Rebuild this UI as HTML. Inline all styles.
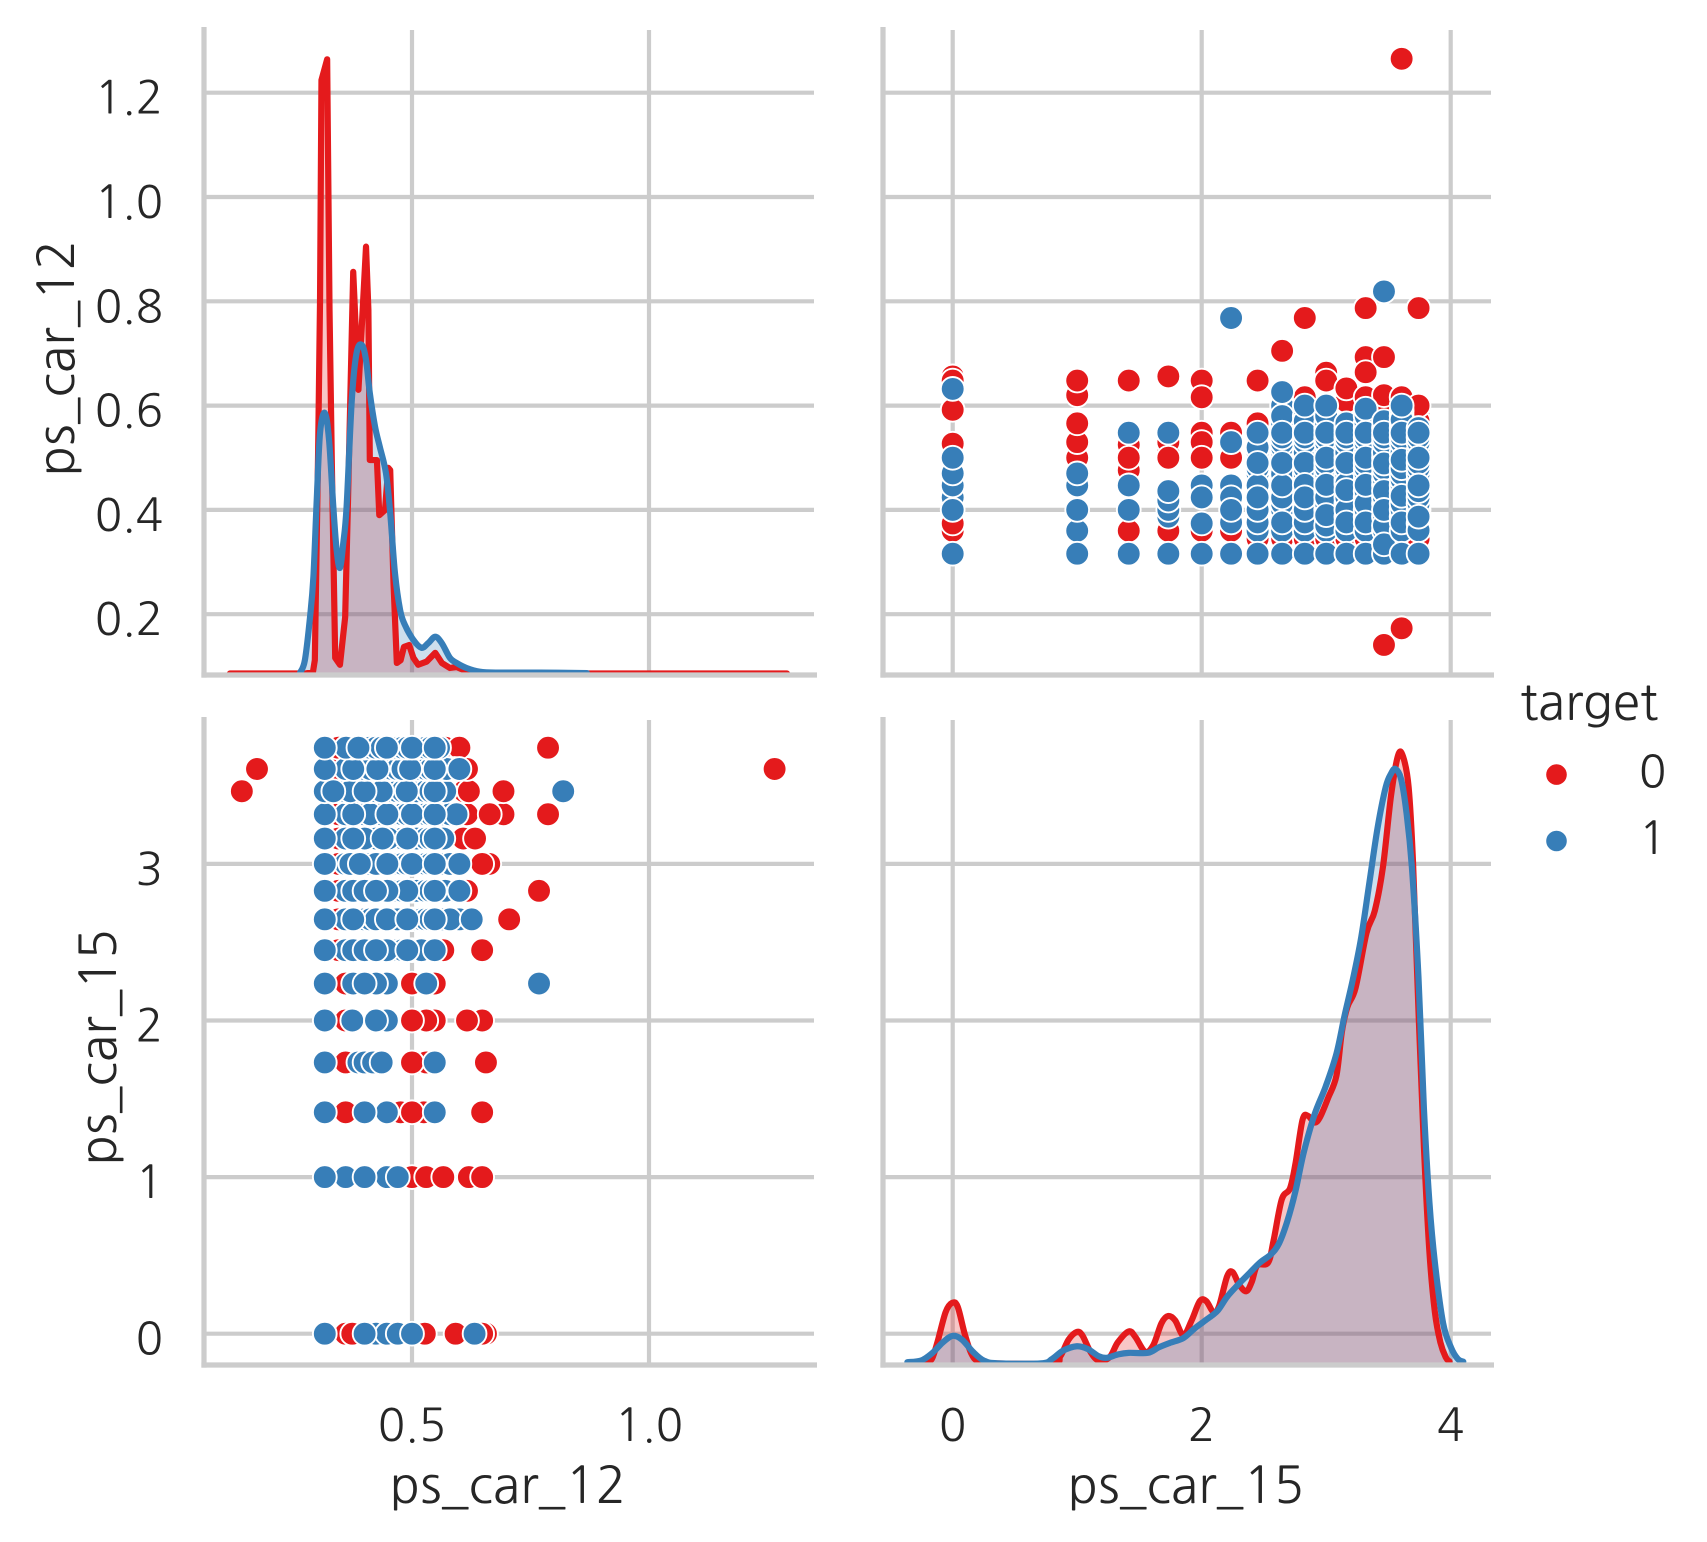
<!DOCTYPE html>
<html lang="en">
<head>
<meta charset="utf-8">
<title>Pair plot of ps_car_12 and ps_car_15 by target</title>
<style>
html,body{margin:0;padding:0;background:#fff;}
svg{display:block;}
text{font-family:"NanumGothic","Liberation Sans",sans-serif;fill:#262626;}
</style>
</head>
<body>
<svg id="chart" xmlns="http://www.w3.org/2000/svg" width="1707" height="1542" viewBox="0 0 1707 1542"></svg>
<script>
// ---- tick labels ----
const car12TicksY = [0.2, 0.4, 0.6, 0.8, 1.0, 1.2];
const car12TicksX = [0.5, 1.0];
const car15TicksY = [0, 1, 2, 3];
const car15TicksX = [0, 2, 4];
const legendCategories = ['0', '1'];

// ---- scatter data: one row per ps_car_15 level, values are ps_car_12 ----
const car15Levels = [0, 1, 1.414, 1.732, 2, 2.236, 2.449, 2.646, 2.828, 3, 3.162, 3.317, 3.464, 3.606, 3.742];
const redCar12 = [
  [.36,.374,.527,.592,.656,.648],
  [.5,.53,.566,.62,.648],
  [.36,.476,.51,.525,.5,.648],
  [.36,.51,.53,.5,.656],
  [.36,.548,.53,.5,.648,.616],
  [.36,.548,.5],
  [.345,.5,.566,.648],
  [.345,.5,.705],
  [.345,.5,.616,.768],
  [.345,.5,.663,.648],
  [.345,.5,.608,.633],
  [.345,.616,.693,.664,.787],
  [.141,.345,.605,.61,.62,.693],
  [.173,.345,.616,1.265],
  [.345,.58,.57,.6,.787]
];
const blueCar12 = [
  [.424,.447,.47,.316,.4,.5,.632],
  [.36,.447,.316,.4,.47],
  [.316,.447,.4,.548],
  [.387,.4,.418,.316,.548,.436],
  [.447,.316,.374,.424],
  [.447,.424,.376,.4,.316,.53,.768],
  [.36,.387,.412,.436,.458,.469,.48,.51,.52,.376,.4,.447,.424,.316,.49,.548],
  [.36,.387,.4,.412,.436,.458,.469,.51,.52,.529,.539,.557,.566,.59,.6,.424,.376,.58,.447,.316,.49,.548,.626],
  [.36,.387,.412,.436,.458,.469,.48,.51,.529,.539,.557,.58,.376,.4,.49,.448,.57,.316,.424,.548,.6],
  [.36,.387,.4,.412,.436,.458,.469,.48,.49,.51,.529,.539,.557,.566,.58,.37,.424,.448,.39,.316,.5,.548,.6],
  [.36,.387,.412,.424,.458,.469,.48,.5,.51,.529,.539,.557,.45,.4,.49,.566,.438,.376,.316,.548],
  [.36,.387,.4,.424,.436,.458,.469,.48,.49,.51,.529,.539,.557,.566,.58,.412,.448,.5,.594,.376,.316,.548],
  [.36,.387,.412,.424,.447,.458,.469,.48,.5,.51,.529,.539,.557,.316,.37,.436,.489,.57,.334,.4,.548,.819],
  [.36,.387,.4,.412,.436,.447,.458,.469,.48,.51,.529,.539,.557,.566,.58,.59,.427,.573,.6,.496,.316,.376,.548],
  [.374,.4,.412,.424,.436,.458,.469,.48,.49,.51,.529,.539,.557,.361,.316,.5,.387,.447,.548]
];

// ---- KDE of ps_car_12 ----
const kde12RedX = [.116,.274,.291,.295,.302,.306,.309,.321,.326,.331,.338,.348,.359,.365,.373,.376,.387,.403,.408,.411,.426,.431,.443,.450,.454,.461,.468,.476,.483,.494,.503,.513,.531,.549,.563,.580,.594,.622,.665,1.291];
const kde12RedD = [0,0,.003,.029,.487,.814,1.293,1.338,.792,.450,.034,.019,.123,.378,.742,.875,.618,.930,.792,.465,.465,.345,.356,.448,.443,.197,.023,.029,.058,.062,.034,.019,.026,.045,.023,.012,.014,.002,0,0];
const kde12BlueX = [.264,.274,.285,.292,.299,.306,.316,.325,.334,.341,.348,.355,.362,.373,.383,.394,.403,.411,.422,.432,.445,.454,.464,.475,.485,.503,.520,.534,.549,.563,.580,.594,.615,.643,.679,.770,.869];
const kde12BlueD = [.002,.029,.124,.211,.378,.524,.568,.509,.363,.269,.230,.284,.363,.596,.698,.716,.683,.611,.538,.494,.437,.350,.219,.138,.106,.073,.056,.066,.080,.066,.034,.023,.012,.004,.002,.002,.001];

// ---- KDE of ps_car_15 ----
const kde15RedX = [-.211,-.167,-.123,-.057,-.004,.040,.097,.149,.206,.316,.799,.865,.931,.997,1.041,1.106,1.172,1.260,1.326,1.414,1.467,1.546,1.611,1.677,1.730,1.787,1.853,1.919,1.985,2.037,2.094,2.138,2.204,2.248,2.301,2.358,2.402,2.446,2.533,2.577,2.643,2.709,2.753,2.810,2.854,2.907,2.951,3.016,3.082,3.126,3.170,3.236,3.324,3.390,3.456,3.521,3.578,3.618,3.662,3.697,3.741,3.785,3.829,3.873,3.917,3.960,3.991];
const kde15RedD = [.004,.010,.040,.095,.112,.105,.055,.020,.005,.002,.002,.015,.045,.059,.053,.023,.007,.013,.040,.060,.050,.023,.035,.075,.088,.080,.053,.080,.115,.115,.095,.105,.160,.168,.145,.133,.150,.180,.185,.225,.300,.320,.365,.445,.452,.440,.450,.485,.525,.605,.650,.685,.785,.825,.905,1.035,1.108,1.105,1.050,.915,.645,.395,.205,.095,.040,.013,.005];
const kde15BlueX = [-.364,-.254,-.167,-.079,0,.075,.162,.250,.360,.711,.799,.887,.997,1.085,1.172,1.238,1.326,1.414,1.567,1.655,1.743,1.853,1.941,2.029,2.125,2.204,2.292,2.379,2.467,2.555,2.621,2.687,2.753,2.819,2.907,2.995,3.082,3.148,3.214,3.280,3.346,3.412,3.478,3.522,3.556,3.601,3.644,3.688,3.741,3.785,3.829,3.873,3.939,4.004,4.057,4.101];
const kde15BlueD = [.004,.007,.020,.040,.052,.045,.023,.007,.002,.002,.010,.025,.033,.028,.015,.012,.018,.021,.021,.031,.039,.048,.065,.080,.097,.123,.145,.165,.185,.200,.220,.260,.315,.385,.455,.505,.565,.635,.700,.775,.875,.975,1.050,1.075,1.083,1.065,1.005,.905,.705,.465,.295,.185,.075,.030,.010,.005];

// ---- axis functions ----
const xCar12 = v => 412 + (v - 0.5) * 474;
const yCar12 = v => 92.7 + (1.2 - v) * 521.5;
const xCar15 = v => 952.7 + v * 124.5;
const yCar15 = v => 1333.7 - v * 156.6;
const yDens12 = d => 673.5 - d * 459;
const yDens15 = d => 1364.4 - d * 549.8;

const RED = '#e41a1c', BLUE = '#377eb8', GRID = '#cccccc';
const NS = 'http://www.w3.org/2000/svg';
const svg = document.getElementById('chart');
const panels = [
  {l:204,  r:814,  t:30,  b:675},
  {l:883,  r:1491, t:30,  b:675},
  {l:204,  r:814,  t:720, b:1365},
  {l:883,  r:1491, t:720, b:1365}
];

function mk(tag, parent, attrs, text) {
  const el = document.createElementNS(NS, tag);
  for (const k in attrs) el.setAttribute(k, attrs[k]);
  if (text !== undefined) el.textContent = text;
  parent.appendChild(el);
  return el;
}

function drawGrid(p, g, xTicks, xFn, yTicks, yFn) {
  for (const t of xTicks) {
    const line = mk('line', g, {x1:xFn(t), x2:xFn(t), y1:p.t, y2:p.b, stroke:GRID, 'stroke-width':4.2});
    
    
  }
  for (const t of yTicks) {
    const line = mk('line', g, {x1:p.l, x2:p.r, y1:yFn(t), y2:yFn(t), stroke:GRID, 'stroke-width':4.2});
    
    
  }
}

function drawSpines(p, g) {
  const left = mk('line', g, {x1:p.l, x2:p.l, y1:p.t - 3, y2:p.b + 2.6, stroke:GRID, 'stroke-width':5.2});
  
  
  const bottom = mk('line', g, {x1:p.l - 2.6, x2:p.r + 3, y1:p.b, y2:p.b, stroke:GRID, 'stroke-width':5.2});
  
  
}

function straightPath(pts) {
  return pts.map((q, i) => (i ? 'L' : 'M') + q[0].toFixed(2) + ' ' + q[1].toFixed(2)).join('');
}

function smoothPath(pts) {
  let d = 'M' + pts[0][0].toFixed(2) + ' ' + pts[0][1].toFixed(2);
  for (let i = 0; i < pts.length - 1; i++) {
    const p0 = pts[Math.max(i - 1, 0)], p1 = pts[i], p2 = pts[i + 1], p3 = pts[Math.min(i + 2, pts.length - 1)];
    const c1x = p1[0] + (p2[0] - p0[0]) / 6, c1y = p1[1] + (p2[1] - p0[1]) / 6;
    const c2x = p2[0] - (p3[0] - p1[0]) / 6, c2y = p2[1] - (p3[1] - p1[1]) / 6;
    d += 'C' + c1x.toFixed(2) + ' ' + c1y.toFixed(2) + ' ' + c2x.toFixed(2) + ' ' + c2y.toFixed(2) + ' ' + p2[0].toFixed(2) + ' ' + p2[1].toFixed(2);
  }
  return d;
}

function kdePath(xs, ds, xFn, yFn, smooth) {
  const pts = xs.map((x, i) => [xFn(x), yFn(ds[i])]);
  return smooth ? smoothPath(pts) : straightPath(pts);
}

function drawKdeFill(g, xs, ds, xFn, yFn, color, label, smooth) {
  const area = kdePath(xs, ds, xFn, yFn, smooth) +
               'L' + xFn(xs[xs.length - 1]).toFixed(2) + ' ' + yFn(0).toFixed(2) +
               'L' + xFn(xs[0]).toFixed(2) + ' ' + yFn(0).toFixed(2) + 'Z';
  const fill = mk('path', g, {d:area, fill:color, 'fill-opacity':0.25, stroke:'none'});
  
  
}

function drawKdeLine(g, xs, ds, xFn, yFn, color, label, smooth) {
  const stroke = mk('path', g, {d:kdePath(xs, ds, xFn, yFn, smooth), fill:'none', stroke:color, 'stroke-width':6.2, 'stroke-linejoin':'round', 'stroke-linecap':'round'});
  
  
}

function drawPoint(g, cx, cy, color, label) {
  const c = mk('circle', g, {cx:cx, cy:cy, r:11.9, fill:color, stroke:'#ffffff', 'stroke-width':1.9});
  
  
}

function drawScatter(g, project) {
  [[redCar12, RED, '0'], [blueCar12, BLUE, '1']].forEach(([rows, color, label]) => {
    rows.forEach((row, i) => {
      row.forEach(v12 => {
        const pt = project(v12, car15Levels[i]);
        drawPoint(g, pt[0], pt[1], color, label);
      });
    });
  });
}

function addText(parent, str, x, y, size, anchor, name, rotate) {
  const attrs = {x:x, y:y, 'font-size':size, 'text-anchor':anchor};
  if (rotate) attrs.transform = 'rotate(-90 ' + x + ' ' + y + ')';
  const t = mk('text', parent, attrs, str);
  
  
  return t;
}

// Panel 1: KDE ps_car_12
const g1 = mk('g', svg, {});


drawGrid(panels[0], g1, car12TicksX, xCar12, car12TicksY, yCar12);
drawKdeFill(g1, kde12RedX, kde12RedD, xCar12, yDens12, RED, '0', false);
drawKdeFill(g1, kde12BlueX, kde12BlueD, xCar12, yDens12, BLUE, '1', true);
drawKdeLine(g1, kde12RedX, kde12RedD, xCar12, yDens12, RED, '0', false);
drawKdeLine(g1, kde12BlueX, kde12BlueD, xCar12, yDens12, BLUE, '1', true);
drawSpines(panels[0], g1);

// Panel 2: scatter x=ps_car_15, y=ps_car_12
const g2 = mk('g', svg, {});


drawGrid(panels[1], g2, car15TicksX, xCar15, car12TicksY, yCar12);
drawSpines(panels[1], g2);
drawScatter(g2, (v12, v15) => [xCar15(v15), yCar12(v12)]);

// Panel 3: scatter x=ps_car_12, y=ps_car_15
const g3 = mk('g', svg, {});


drawGrid(panels[2], g3, car12TicksX, xCar12, car15TicksY, yCar15);
drawSpines(panels[2], g3);
drawScatter(g3, (v12, v15) => [xCar12(v12), yCar15(v15)]);

// Panel 4: KDE ps_car_15
const g4 = mk('g', svg, {});


drawGrid(panels[3], g4, car15TicksX, xCar15, car15TicksY, yCar15);
drawKdeFill(g4, kde15RedX, kde15RedD, xCar15, yDens15, RED, '0', true);
drawKdeFill(g4, kde15BlueX, kde15BlueD, xCar15, yDens15, BLUE, '1', true);
drawKdeLine(g4, kde15RedX, kde15RedD, xCar15, yDens15, RED, '0', true);
drawKdeLine(g4, kde15BlueX, kde15BlueD, xCar15, yDens15, BLUE, '1', true);
drawSpines(panels[3], g4);

// Tick labels
for (const t of car12TicksY) addText(svg, t.toFixed(1), 163, yCar12(t) + 21, 45, 'end', 'y-tick-label');
for (const t of car15TicksY) addText(svg, String(t), 163, yCar15(t) + 21, 45, 'end', 'y-tick-label');
for (const t of car12TicksX) addText(svg, t.toFixed(1), xCar12(t), 1441, 45, 'middle', 'x-tick-label');
for (const t of car15TicksX) addText(svg, String(t), xCar15(t), 1441, 45, 'middle', 'x-tick-label');

// Axis titles
addText(svg, 'ps_car_12', 74, 358, 50, 'middle', 'y-axis-title-ps-car-12', true);
addText(svg, 'ps_car_15', 116, 1047, 50, 'middle', 'y-axis-title-ps-car-15', true);
addText(svg, 'ps_car_12', 508, 1503, 50, 'middle', 'x-axis-title-ps-car-12');
addText(svg, 'ps_car_15', 1186, 1503, 50, 'middle', 'x-axis-title-ps-car-15');

// Legend
const legend = mk('g', svg, {});


addText(legend, 'target', 1520, 720, 49.5, 'start', 'legend-title');
legendCategories.forEach((cat, i) => {
  const cy = 774.6 + i * 66.4;
  const swatch = mk('circle', legend, {cx:1556.5, cy:cy, r:11.2, fill:i ? BLUE : RED, stroke:'#ffffff', 'stroke-width':1.8});
  
  
  addText(legend, cat, 1639, cy + 13, 45, 'start', 'legend-label');
});
</script>
</body>
</html>
